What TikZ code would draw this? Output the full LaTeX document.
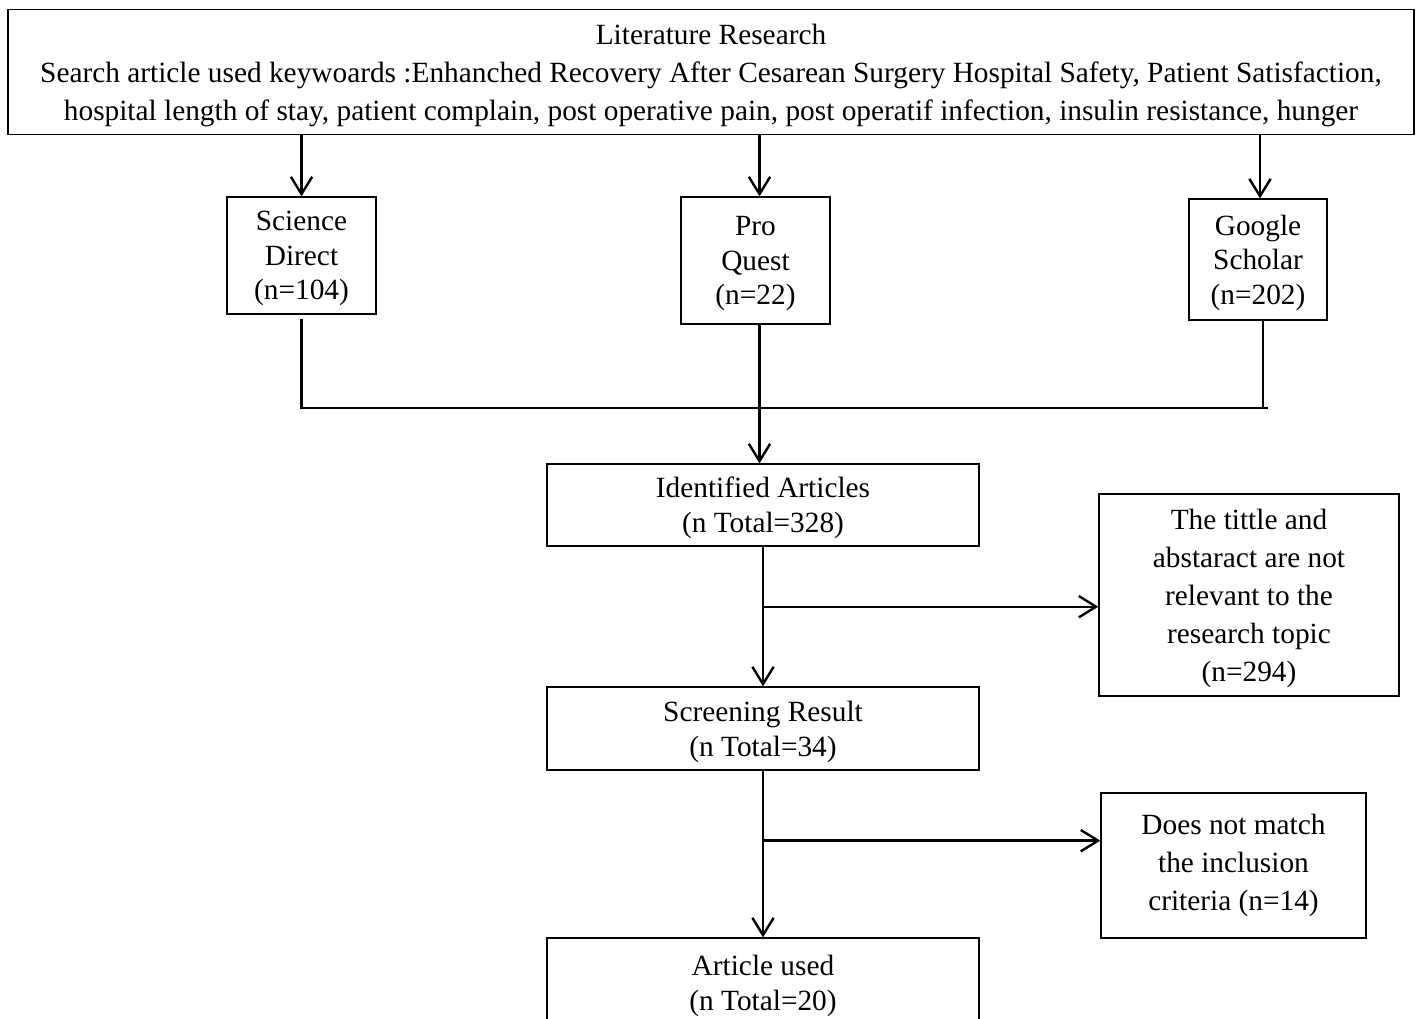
\documentclass[tikz,border=0pt]{standalone}
\usepackage{fontspec}
\setmainfont{Liberation Serif}
\usetikzlibrary{arrows.meta,positioning,calc}
\tikzset{
  box/.style={draw, line width=0.9pt, align=center, inner sep=0pt, font=\fontsize{22}{26}\selectfont},
  widebox/.style={box, font=\fontsize{22}{28.5}\selectfont},
  arrow/.style={-{Straight Barb[length=13pt,width=16pt,line width=1.8pt]}, line width=1.8pt},
  line/.style={line width=1.8pt}
}

\begin{document}
\begin{tikzpicture}[x=0.75pt,y=0.75pt]
  \clip (0,0) rectangle (1422,-1019);
  \fill[white] (0,0) rectangle (1422,-1019);

  \node[widebox, minimum width=1054.5pt, minimum height=93.75pt, text depth=-2pt] (lit) at (711,-72) {
    Literature Research\\
    Search article used keywoards :Enhanched Recovery After Cesarean Surgery Hospital Safety, Patient Satisfaction,\\
    hospital length of stay, patient complain, post operative pain, post operatif infection, insulin resistance, hunger
  };

  \node[box, minimum width=111.75pt, minimum height=87.75pt, text depth=-8pt] (science) at (301.5,-255.5) {Science\\Direct\\(n=104)};
  \node[box, minimum width=111.75pt, minimum height=95.25pt, text depth=-8pt] (proquest) at (755.5,-260.5) {Pro\\Quest\\(n=22)};
  \node[box, minimum width=103.5pt, minimum height=90.75pt, text depth=-6pt] (scholar) at (1258,-259.5) {Google\\Scholar\\(n=202)};

  \node[box, minimum width=324pt, minimum height=61.5pt, text depth=-8pt] (ident) at (763,-505) {Identified Articles\\ (n Total=328)};
  \node[widebox, minimum width=225pt, minimum height=151.5pt, text depth=-4pt] (irrelevant) at (1249,-595) {
    The tittle and\\abstaract are not\\relevant to the\\research topic\\(n=294)
  };
  \node[box, minimum width=324pt, minimum height=62.25pt, text depth=-7pt] (screen) at (763,-728.5) {Screening Result\\ (n Total=34)};
  \node[widebox, minimum width=198.75pt, minimum height=108.75pt] (nomatch) at (1233.5,-865.5) {
    Does not match\\the inclusion\\criteria (n=14)
  };
  \node[box, minimum width=324pt, minimum height=67.5pt, text depth=0pt] (used) at (763,-983) {Article used\\ (n Total=20)};

  % search engines
  \draw[arrow] (science.north |- lit.south) -- (science.north);
  \draw[arrow] ($(proquest.north |- lit.south)+(4,0)$) -- ($(proquest.north)+(4,0)$);
  \draw[arrow] ($(scholar.north |- lit.south)+(2,0)$) -- ($(scholar.north)+(2,0)$);

  % merge into identified articles
  \coordinate (bus) at (0,-408);
  \draw[line] ($(science.south)+(0,-4)$) -- (science.south |- bus) -- ($(scholar.south |- bus)+(10,0)$);
  \draw[line] ($(scholar.south)+(5,0)$) -- ($(scholar.south |- bus)+(5,0)$);
  \draw[arrow] ($(proquest.south)+(4,0)$) -- (ident.north -| {$(proquest.south)+(4,0)$});

  % screening
  \draw[arrow] (ident.south) -- (screen.north);
  \coordinate (cut1) at ($(ident.south)!0.43!(screen.north)$);
  \draw[arrow] (cut1) -- (cut1 -| irrelevant.west);

  \draw[arrow] (screen.south) -- (used.north);
  \coordinate (cut2) at ($(screen.south)!0.42!(used.north)$);
  \draw[arrow] (cut2) -- (cut2 -| nomatch.west);
\end{tikzpicture}
\end{document}
